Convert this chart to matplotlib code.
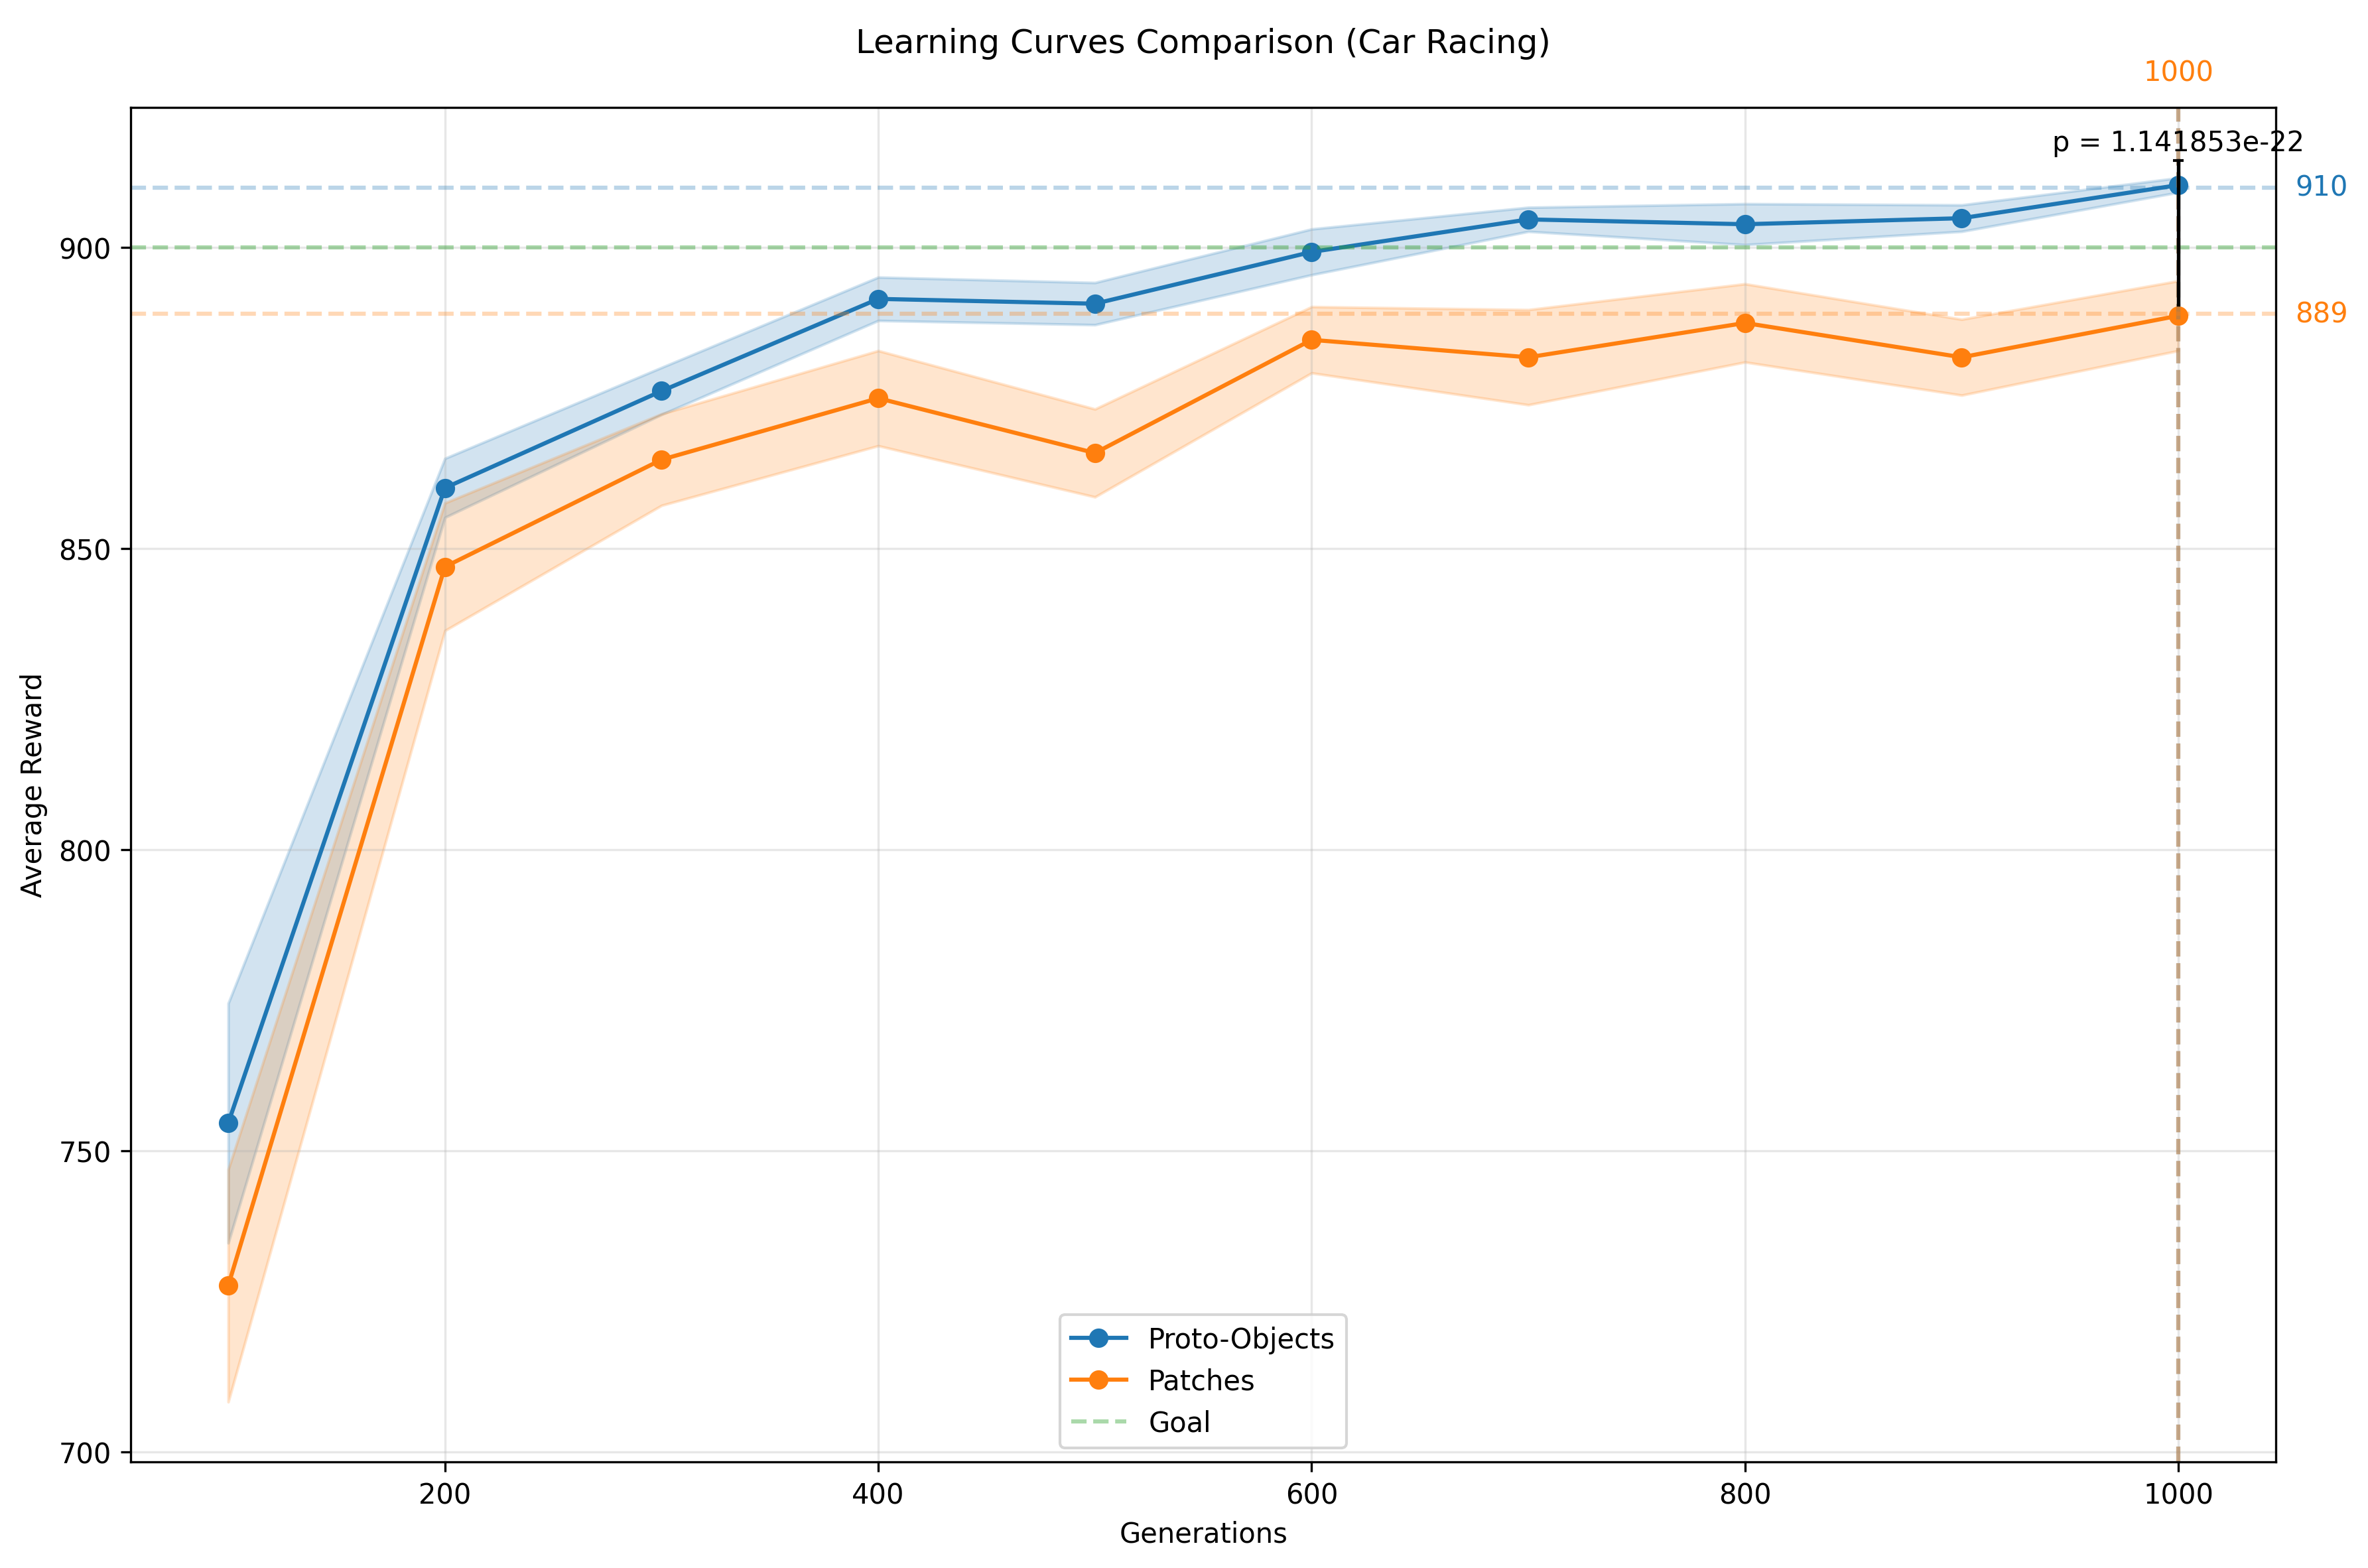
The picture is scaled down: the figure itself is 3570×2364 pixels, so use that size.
import numpy as np
import matplotlib
matplotlib.use("Agg")
import matplotlib.pyplot as plt
import matplotlib.transforms as mtransforms
from matplotlib.ticker import MultipleLocator

# ==========================================
# 1. DATA
# ==========================================
generations = [100, 200, 300, 400, 500, 600, 700, 800, 900, 1000]

proto_mean = [754.6, 860.1, 876.2, 891.5, 890.7, 899.3, 904.7, 903.9, 904.9, 910.4]
proto_std = [19.9, 4.9, 3.9, 3.6, 3.5, 3.8, 2.0, 3.4, 2.2, 1.2]

patch_mean = [727.6, 847.0, 864.8, 875.0, 865.9, 884.7, 881.8, 887.5, 881.8, 888.7]
patch_std = [19.3, 10.6, 7.6, 7.9, 7.3, 5.5, 7.9, 6.5, 6.3, 5.8]

goal = 900
best_gen = 1000
best_proto = 910
best_patch = 889
p_value = 1.141853e-22
p_line = [890.6, 914.5]

blue = "#1f77b4"
orange = "#ff7f0e"

# ==========================================
# 2. PLOTTING
# ==========================================
fig = plt.figure(figsize=(11.9, 7.8833), dpi=300)
ax = fig.add_axes([0.0552, 0.0677, 0.9059, 0.8634])

gens = np.array(generations)
pm, ps = np.array(proto_mean), np.array(proto_std)
tm, ts = np.array(patch_mean), np.array(patch_std)

ax.plot(gens, pm, marker="o", color=blue, label="Proto-Objects")
ax.fill_between(gens, pm - ps, pm + ps, color=blue, alpha=0.2)
ax.plot(gens, tm, marker="o", color=orange, label="Patches")
ax.fill_between(gens, tm - ts, tm + ts, color=orange, alpha=0.2)

ax.axhline(goal, color="tab:green", linestyle="--", alpha=0.4, label="Goal")

# best-generation markers
ax.axhline(best_proto, color=blue, linestyle="--", alpha=0.3)
ax.axvline(best_gen, color=blue, linestyle="--", alpha=0.4)
ax.axhline(best_patch, color=orange, linestyle="--", alpha=0.3)
ax.axvline(best_gen, color=orange, linestyle="--", alpha=0.4)

trans = mtransforms.blended_transform_factory(ax.transAxes, ax.transData)
ax.annotate(f"{best_proto}", xy=(1, best_proto), xycoords=trans,
            xytext=(7, 0), textcoords="offset points",
            color=blue, va="center", ha="left", fontsize=10)
ax.annotate(f"{best_patch}", xy=(1, best_patch), xycoords=trans,
            xytext=(7, 0), textcoords="offset points",
            color=orange, va="center", ha="left", fontsize=10)
trans_x = mtransforms.blended_transform_factory(ax.transData, ax.transAxes)
ax.annotate(f"{best_gen}", xy=(best_gen, 1), xycoords=trans_x,
            xytext=(0, 7.5), textcoords="offset points",
            color=orange, va="bottom", ha="center", fontsize=10)

# significance bar
ax.plot([best_gen, best_gen], p_line, color="black", linewidth=1.3)
ax.plot([best_gen], [p_line[1]], marker="_", color="black", markersize=4)
ax.text(best_gen, p_line[1] + 0.6, f"p = {p_value:e}", ha="center",
        va="bottom", fontsize=10)

ax.set_xlim(55, 1045)
ax.set_ylim(698.35, 923.3)
ax.yaxis.set_major_locator(MultipleLocator(50))
ax.set_title("Learning Curves Comparison (Car Racing)", pad=20)
ax.set_xlabel("Generations")
ax.set_ylabel("Average Reward")
ax.grid(True, alpha=0.3)
ax.legend(loc="lower center")

fig.savefig("out.png", dpi=300)
